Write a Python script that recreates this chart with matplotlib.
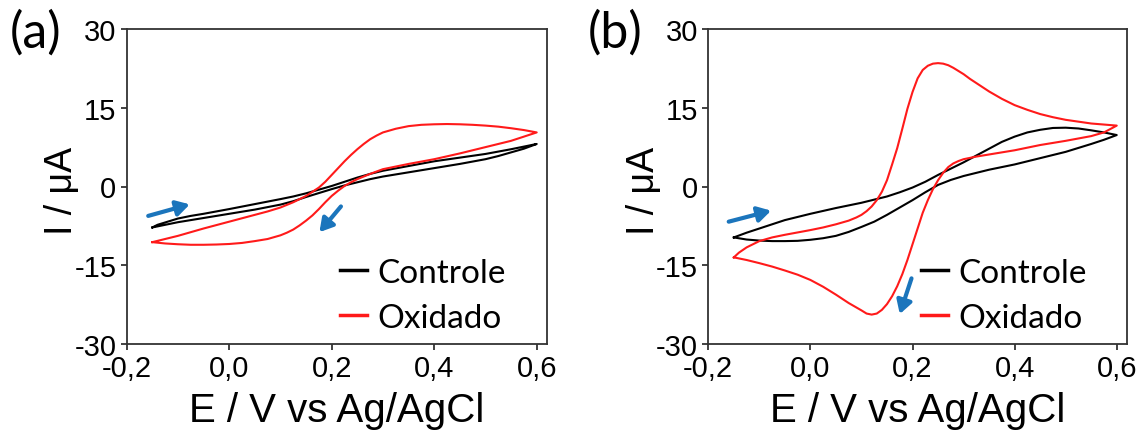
import numpy as np
import matplotlib
matplotlib.use("Agg")
import matplotlib.pyplot as plt
from matplotlib.lines import Line2D

# ---- data (E in V, I in uA) ----
# (a) controle
a_ctrl_fwd_E = [-0.15, -0.14, -0.125, -0.10, -0.075, -0.05, -0.025, 0.00, 0.05, 0.10, 0.125, 0.15, 0.175, 0.20, 0.225, 0.25, 0.275, 0.30, 0.35, 0.40, 0.45, 0.50, 0.55, 0.60]
a_ctrl_fwd_I = [-7.8, -7.3, -6.85, -6.1, -5.6, -5.2, -4.75, -4.3, -3.35, -2.4, -1.9, -1.3, -0.6, 0.1, 0.9, 1.7, 2.4, 3.0, 3.9, 4.8, 5.5, 6.2, 7.1, 8.1]
a_ctrl_rev_E = [0.60, 0.575, 0.55, 0.525, 0.50, 0.45, 0.40, 0.35, 0.30, 0.275, 0.25, 0.225, 0.20, 0.175, 0.15, 0.125, 0.10, 0.05, 0.00, -0.05, -0.10, -0.125, -0.14, -0.15]
a_ctrl_rev_I = [8.1, 7.2, 6.5, 5.8, 5.2, 4.3, 3.5, 2.7, 1.9, 1.4, 0.8, 0.2, -0.5, -1.25, -2.0, -2.8, -3.45, -4.4, -5.2, -6.0, -6.8, -7.3, -7.6, -7.8]

# (a) oxidado
a_oxi_fwd_E = [-0.15, -0.125, -0.10, -0.05, 0.00, 0.05, 0.075, 0.10, 0.125, 0.15, 0.1625, 0.175, 0.1875, 0.20, 0.2125, 0.225, 0.2375, 0.25, 0.2625, 0.275, 0.2875, 0.30, 0.325, 0.35, 0.375, 0.40, 0.425, 0.45, 0.475, 0.50, 0.525, 0.55, 0.575, 0.60]
a_oxi_fwd_I = [-10.6, -10.0, -9.4, -8.0, -6.7, -5.4, -4.75, -4.0, -3.0, -1.8, -1.0, -0.2, 0.9, 2.2, 3.5, 4.8, 6.0, 7.1, 8.1, 9.0, 9.7, 10.3, 11.0, 11.5, 11.75, 11.85, 11.9, 11.85, 11.75, 11.6, 11.4, 11.1, 10.75, 10.3]
a_oxi_rev_E = [0.60, 0.575, 0.55, 0.50, 0.45, 0.40, 0.35, 0.30, 0.275, 0.25, 0.2375, 0.225, 0.2125, 0.20, 0.1875, 0.175, 0.1625, 0.15, 0.1375, 0.125, 0.1125, 0.10, 0.075, 0.05, 0.025, 0.00, -0.025, -0.05, -0.075, -0.10, -0.125, -0.15]
a_oxi_rev_I = [10.3, 9.5, 8.7, 7.5, 6.3, 5.2, 4.3, 3.3, 2.4, 1.4, 0.8, 0.1, -0.8, -1.8, -3.0, -4.3, -5.5, -6.5, -7.4, -8.2, -8.8, -9.3, -10.0, -10.4, -10.75, -10.95, -11.05, -11.1, -11.1, -11.0, -10.85, -10.6]

# (b) controle
b_ctrl_fwd_E = [-0.15, -0.125, -0.10, -0.075, -0.05, -0.025, 0.00, 0.05, 0.10, 0.15, 0.175, 0.20, 0.225, 0.25, 0.275, 0.30, 0.325, 0.35, 0.375, 0.40, 0.425, 0.45, 0.475, 0.50, 0.525, 0.55, 0.575, 0.60]
b_ctrl_fwd_I = [-9.7, -8.8, -8.0, -7.2, -6.4, -5.8, -5.2, -4.1, -3.1, -1.9, -1.1, -0.2, 0.9, 2.2, 3.4, 4.6, 5.9, 7.2, 8.5, 9.5, 10.3, 10.8, 11.15, 11.2, 11.05, 10.7, 10.3, 9.8]
b_ctrl_rev_E = [0.60, 0.575, 0.55, 0.50, 0.45, 0.40, 0.35, 0.30, 0.275, 0.25, 0.225, 0.20, 0.175, 0.15, 0.125, 0.10, 0.075, 0.05, 0.025, 0.00, -0.025, -0.05, -0.075, -0.10, -0.125, -0.15]
b_ctrl_rev_I = [9.8, 8.9, 8.1, 6.6, 5.4, 4.2, 3.2, 2.0, 1.25, 0.3, -1.1, -2.6, -4.0, -5.4, -6.7, -7.7, -8.65, -9.4, -9.85, -10.15, -10.35, -10.4, -10.4, -10.3, -10.1, -9.7]

# (b) oxidado
b_oxi_fwd_E = [-0.15, -0.14, -0.125, -0.10, -0.075, -0.05, -0.025, 0.00, 0.025, 0.05, 0.075, 0.09, 0.10, 0.11, 0.12, 0.13, 0.14, 0.15, 0.16, 0.17, 0.18, 0.19,
               0.20, 0.21, 0.22, 0.23, 0.24, 0.25, 0.26, 0.27, 0.28, 0.29, 0.30, 0.3125, 0.325, 0.35, 0.375, 0.40, 0.425, 0.45, 0.475, 0.50, 0.55, 0.60]
b_oxi_fwd_I = [-13.5, -12.6, -11.6, -10.4, -9.7, -9.2, -8.75, -8.3, -7.8, -7.2, -6.5, -5.9, -5.4, -4.7, -3.8, -2.6, -1.0, 1.2, 4.2, 7.3, 11.0, 14.8,
               18.0, 20.6, 22.2, 23.0, 23.4, 23.5, 23.4, 23.1, 22.6, 22.0, 21.4, 20.5, 19.7, 18.1, 16.7, 15.5, 14.6, 13.8, 13.2, 12.7, 12.0, 11.6]
b_oxi_rev_E = [0.60, 0.575, 0.55, 0.50, 0.45, 0.40, 0.35, 0.325, 0.30, 0.29, 0.28, 0.27, 0.26, 0.25, 0.24, 0.23, 0.22, 0.21, 0.20, 0.19, 0.18,
               0.17, 0.16, 0.15, 0.14, 0.13, 0.12, 0.11, 0.10, 0.075, 0.05, 0.025, 0.00, -0.025, -0.05, -0.075, -0.10, -0.125, -0.15]
b_oxi_rev_I = [11.6, 10.3, 9.6, 8.7, 7.9, 6.9, 6.1, 5.7, 5.2, 4.85, 4.4, 3.7, 2.6, 1.2, -0.5, -2.6, -5.0, -8.0, -11.0, -14.0, -16.7,
               -19.0, -20.9, -22.4, -23.5, -24.2, -24.4, -24.2, -23.6, -22.2, -20.6, -19.1, -17.8, -16.8, -16.0, -15.25, -14.6, -14.0, -13.5]

# scan direction arrows: (tail E, tail I, head E, head I)
a_arrows = [(-0.158, -5.6, -0.077, -3.4), (0.218, -3.8, 0.176, -8.7)]
b_arrows = [(-0.160, -6.7, -0.077, -4.6), (0.198, -17.5, 0.175, -24.3)]

xticks = [-0.2, 0.0, 0.2, 0.4, 0.6]
xtick_labels = ['-0,2', '0,0', '0,2', '0,4', '0,6']
yticks = [-30, -15, 0, 15, 30]
ytick_labels = ['-30', '-15', '0', '15', '30']
series_names = ['Controle', 'Oxidado']
series_colors = ['black', '#ff1a1a']
arrow_color = '#1b75bc'

plt.rcParams['font.family'] = ['Liberation Sans', 'DejaVu Sans']

fig = plt.figure(figsize=(11.41, 4.35), dpi=100)
W, H = 1141, 435
ax_a = fig.add_axes([126.7 / W, 90 / H, 420 / W, 315 / H])
ax_b = fig.add_axes([708.3 / W, 90 / H, 418.4 / W, 315 / H])


def loop(fE, fI, rE, rI):
    return np.concatenate([fE, rE[1:]]), np.concatenate([fI, rI[1:]])


def setup(ax, curves, arrows):
    for (E, I), c in zip(curves, series_colors):
        ax.plot(E, I, color=c, lw=1.5, solid_joinstyle='round')
    for tE, tI, hE, hI in arrows:
        ax.annotate('', xy=(hE, hI), xytext=(tE, tI),
                    arrowprops=dict(arrowstyle='-|>,head_length=0.6,head_width=0.35',
                                    color=arrow_color, lw=3, mutation_scale=13,
                                    shrinkA=0, shrinkB=0))
    ax.set_xlim(-0.2, 0.6195)
    ax.set_ylim(-30, 30)
    ax.set_xticks(xticks)
    ax.set_xticklabels(xtick_labels)
    ax.set_yticks(yticks)
    ax.set_yticklabels(ytick_labels)
    ax.tick_params(direction='out', length=4, width=1.3, labelsize=21,
                   color='#333333', pad=3.5)
    for s in ax.spines.values():
        s.set_color('#333333')
        s.set_linewidth(1.3)
    ax.set_xlabel('E / V vs Ag/AgCl', fontsize=29, labelpad=6)
    ax.set_ylabel('I / μA', fontsize=27)
    ax.yaxis.set_label_coords(-0.111, 0.49)
    handles = [Line2D([], [], color=c, lw=2.5) for c in series_colors]
    ax.legend(handles, series_names, loc='lower left', bbox_to_anchor=(0.509, 0.035),
              frameon=False, handlelength=0.8, handletextpad=0.3, labelspacing=0.45,
              borderpad=0, borderaxespad=0,
              prop=dict(family=['Lato', 'DejaVu Sans'], size=24))


setup(ax_a, [loop(a_ctrl_fwd_E, a_ctrl_fwd_I, a_ctrl_rev_E, a_ctrl_rev_I),
             loop(a_oxi_fwd_E, a_oxi_fwd_I, a_oxi_rev_E, a_oxi_rev_I)], a_arrows)
setup(ax_b, [loop(b_ctrl_fwd_E, b_ctrl_fwd_I, b_ctrl_rev_E, b_ctrl_rev_I),
             loop(b_oxi_fwd_E, b_oxi_fwd_I, b_oxi_rev_E, b_oxi_rev_I)], b_arrows)

fig.text(10 / W, 1 - 10 / H, '(a)', fontsize=36, va='top', ha='left', family=['Lato', 'DejaVu Sans'])
fig.text(588 / W, 1 - 10 / H, '(b)', fontsize=36, va='top', ha='left', family=['Lato', 'DejaVu Sans'])

fig.savefig('out.png', dpi=100)
